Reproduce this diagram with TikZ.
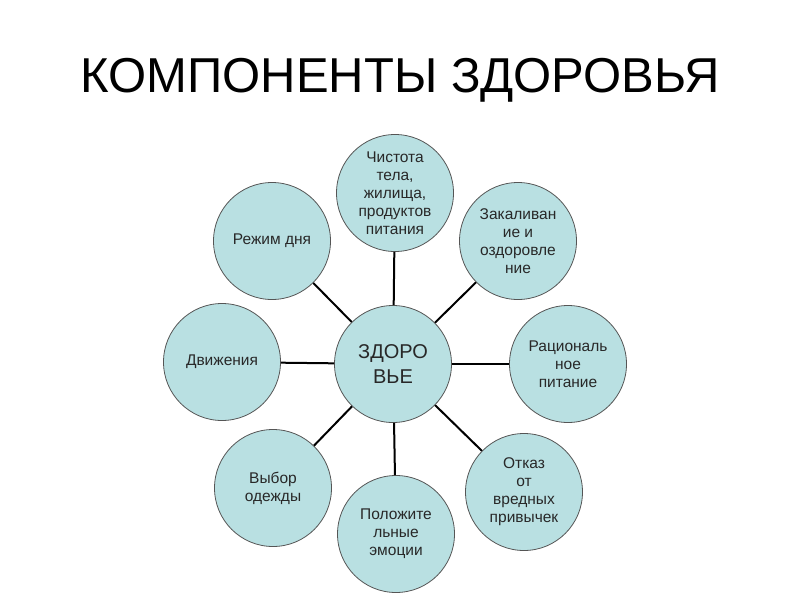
\documentclass[tikz,border=0pt]{standalone}
\usepackage{fontspec}
\setmainfont{Liberation Sans}
\definecolor{bubble}{RGB}{185,224,226}
\definecolor{rim}{RGB}{85,85,85}
\definecolor{ink}{RGB}{40,40,40}

\begin{document}
\begin{tikzpicture}[x=1pt,y=-1pt,
	part/.style={circle,draw=rim,fill=bubble,line width=0.8pt,minimum size=117pt,inner sep=0pt,align=center,text=ink,font=\fontsize{15.5}{18}\selectfont},
	hub/.style={part,font=\fontsize{20}{25}\selectfont},
	spoke/.style={line width=2pt}]
	\useasboundingbox (0,0) rectangle (800,600);

	\node[font=\fontsize{49}{56}\selectfont,anchor=base] (title) at (400,92) {КОМПОНЕНТЫ ЗДОРОВЬЯ};

	\node[hub] (hub) at (393,364) {ЗДОРО\\ВЬЕ};

	\foreach \x/\y/\t [count=\i] in {395/193/{Чистота\\тела,\\жилища,\\продуктов\\питания},
		518/241/{Закаливан\\ие и\\оздоровле\\ние},
		568/364/{Рациональ\\ное\\питание},
		524/492/{Отказ\\от\\вредных\\привычек},
		396/534/{Положите\\льные\\эмоции},
		273/488/{Выбор\\одежды},
		222/362/{Движения},
		272/241/{Режим дня}} {
		\node[part] (p\i) at (\x,\y) {\t};
		\draw[spoke] (hub) -- (p\i);
	};
\end{tikzpicture}
\end{document}
